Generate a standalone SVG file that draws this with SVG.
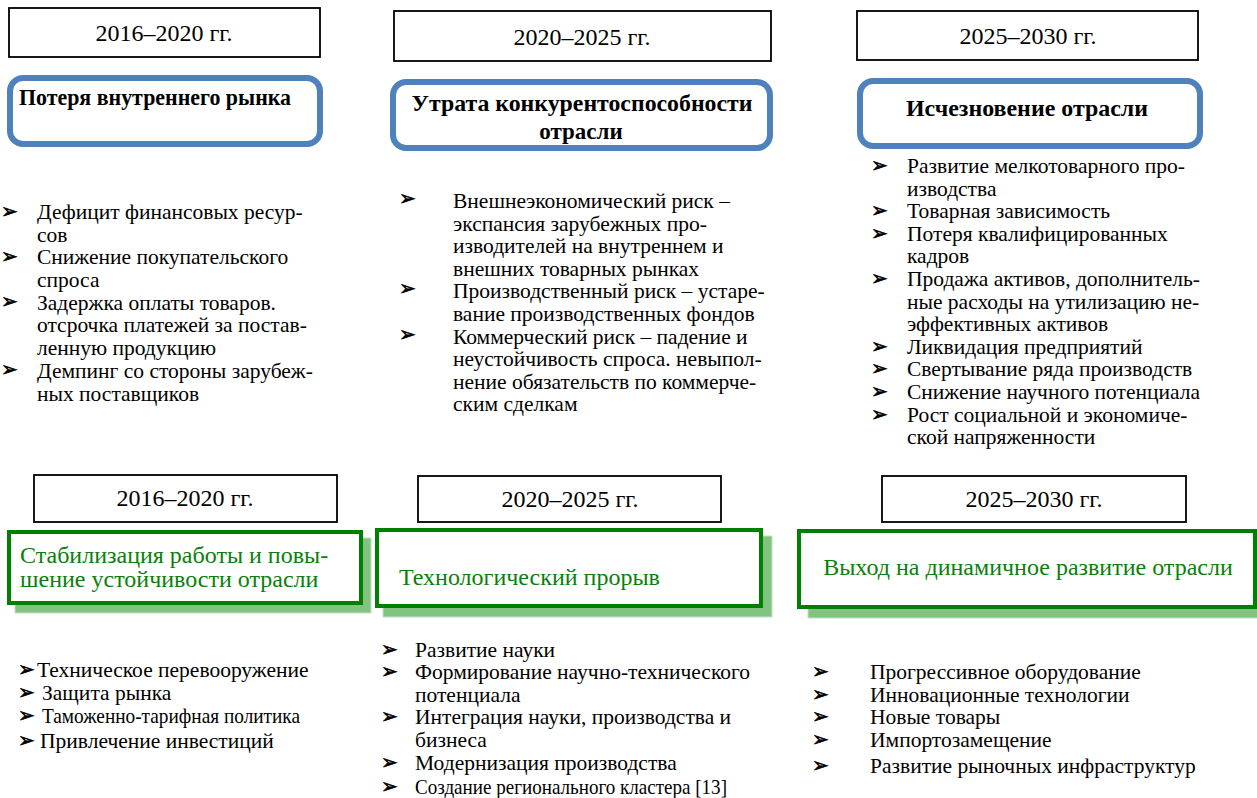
<svg xmlns="http://www.w3.org/2000/svg" width="1257" height="798" viewBox="0 0 1257 798">
<style>
.yr{fill:#fff;stroke:#000;stroke-width:1.8}
.yt{font-family:"Liberation Serif",serif;font-size:24px;fill:#000;text-anchor:middle}
.bb{fill:#fff;stroke:#4F81BD;stroke-width:6}
.bh{font-family:"Liberation Serif",serif;font-size:23px;font-weight:bold;fill:#000}
.gb{fill:#fff;stroke:#008000;stroke-width:4}
.gs{fill:#82C382;stroke:#C2E2C2;stroke-width:1}
.gt{font-family:"Liberation Serif",serif;font-size:24px;fill:#0A800A}
.t{font-family:"Liberation Serif",serif;font-size:21.5px;fill:#000}
.b{font-family:"DejaVu Sans",sans-serif;font-size:20px;fill:#000;stroke:#000;stroke-width:0.6}
</style>
<rect width="1257" height="798" fill="#fff"/>
<g id="connectors"/>

<!-- top row -->
<g id="year-top-1"><rect class="yr" x="9" y="8" width="311" height="49"/><text class="yt" x="164" y="41">2016–2020 гг.</text></g>
<g id="year-top-2"><rect class="yr" x="394" y="11" width="377" height="50"/><text class="yt" x="582" y="45">2020–2025 гг.</text></g>
<g id="year-top-3"><rect class="yr" x="857" y="11" width="341" height="49"/><text class="yt" x="1028" y="44">2025–2030 гг.</text></g>

<g id="risk-1"><rect class="bb" x="10" y="78" width="310" height="66" rx="13"/><text class="bh" x="19" y="105" textLength="272" lengthAdjust="spacingAndGlyphs">Потеря внутреннего рынка</text></g>
<g id="risk-2"><rect class="bb" x="393" y="82" width="377" height="66" rx="13"/><text class="bh" text-anchor="middle" x="582" y="111" textLength="341" lengthAdjust="spacingAndGlyphs">Утрата конкурентоспособности</text><text class="bh" text-anchor="middle" x="581" y="139">отрасли</text></g>
<g id="risk-3"><rect class="bb" x="860" y="81" width="340" height="65" rx="13"/><text class="bh" text-anchor="middle" x="1027" y="116" textLength="242" lengthAdjust="spacingAndGlyphs">Исчезновение отрасли</text></g>

<g id="list-top-1">
<text class="b" x="1" y="218">➢</text><text class="b" x="1" y="263">➢</text><text class="b" x="1" y="308">➢</text><text class="b" x="1" y="376">➢</text>
<text class="t" x="37" y="219">Дефицит финансовых ресур-</text>
<text class="t" x="37" y="242">сов</text>
<text class="t" x="37" y="264">Снижение покупательского</text>
<text class="t" x="37" y="287">спроса</text>
<text class="t" x="37" y="310">Задержка оплаты товаров.</text>
<text class="t" x="37" y="332">отсрочка платежей за постав-</text>
<text class="t" x="37" y="355">ленную продукцию</text>
<text class="t" x="37" y="378">Демпинг со стороны зарубеж-</text>
<text class="t" x="37" y="401">ных поставщиков</text>
</g>

<g id="list-top-2">
<text class="b" x="399" y="205">➢</text><text class="b" x="399" y="295">➢</text><text class="b" x="399" y="341">➢</text>
<text class="t" x="453" y="208">Внешнеэкономический риск –</text>
<text class="t" x="453" y="231">экспансия зарубежных про-</text>
<text class="t" x="453" y="253">изводителей на внутреннем и</text>
<text class="t" x="453" y="276">внешних товарных рынках</text>
<text class="t" x="453" y="298">Производственный риск – устаре-</text>
<text class="t" x="453" y="321">вание производственных фондов</text>
<text class="t" x="453" y="344">Коммерческий риск – падение и</text>
<text class="t" x="453" y="366">неустойчивость спроса. невыпол-</text>
<text class="t" x="453" y="389">нение обязательств по коммерче-</text>
<text class="t" x="453" y="411">ским сделкам</text>
</g>

<g id="list-top-3">
<text class="b" x="871" y="172">➢</text><text class="b" x="871" y="217">➢</text><text class="b" x="871" y="240">➢</text><text class="b" x="871" y="285">➢</text><text class="b" x="871" y="353">➢</text><text class="b" x="871" y="375">➢</text><text class="b" x="871" y="398">➢</text><text class="b" x="871" y="421">➢</text>
<text class="t" x="907" y="173">Развитие мелкотоварного про-</text>
<text class="t" x="907" y="196">изводства</text>
<text class="t" x="907" y="218">Товарная зависимость</text>
<text class="t" x="907" y="241">Потеря квалифицированных</text>
<text class="t" x="907" y="263">кадров</text>
<text class="t" x="907" y="286">Продажа активов, дополнитель-</text>
<text class="t" x="907" y="309">ные расходы на утилизацию не-</text>
<text class="t" x="907" y="331">эффективных активов</text>
<text class="t" x="907" y="354">Ликвидация предприятий</text>
<text class="t" x="907" y="376">Свертывание ряда производств</text>
<text class="t" x="907" y="399">Снижение научного потенциала</text>
<text class="t" x="907" y="422">Рост социальной и экономиче-</text>
<text class="t" x="907" y="444">ской напряженности</text>
</g>

<!-- bottom row -->
<g id="year-bot-1"><rect class="yr" x="34" y="475" width="303" height="47"/><text class="yt" x="185" y="506">2016–2020 гг.</text></g>
<g id="year-bot-2"><rect class="yr" x="418" y="476" width="303" height="46"/><text class="yt" x="570" y="507">2020–2025 гг.</text></g>
<g id="year-bot-3"><rect class="yr" x="882" y="476" width="304" height="46"/><text class="yt" x="1034" y="507">2025–2030 гг.</text></g>

<g id="goal-1"><rect class="gs" x="15" y="538" width="356" height="75"/><rect class="gb" x="9" y="532" width="352" height="71"/><text class="gt" x="20" y="563">Стабилизация работы и повы-</text><text class="gt" x="20" y="587">шение устойчивости отрасли</text></g>
<g id="goal-2"><rect class="gs" x="383" y="536" width="389" height="81"/><rect class="gb" x="377" y="530" width="384" height="76"/><text class="gt" x="399" y="585">Технологический прорыв</text></g>
<g id="goal-3"><rect class="gs" x="808" y="538" width="460" height="80"/><rect class="gb" x="799" y="531" width="456" height="76"/><text class="gt" text-anchor="middle" x="1028" y="575">Выход на динамичное развитие отрасли</text></g>

<g id="list-bot-1">
<text class="b" x="18" y="676">➢</text><text class="b" x="18" y="699">➢</text><text class="b" x="18" y="722">➢</text><text class="b" x="18" y="747">➢</text>
<text class="t" x="37" y="677">Техническое перевооружение</text>
<text class="t" x="42" y="700">Защита рынка</text>
<text class="t" x="42" y="723" textLength="258" lengthAdjust="spacingAndGlyphs">Таможенно-тарифная политика</text>
<text class="t" x="40" y="748">Привлечение инвестиций</text>
</g>

<g id="list-bot-2">
<text class="b" x="381" y="656">➢</text><text class="b" x="381" y="678">➢</text><text class="b" x="381" y="723">➢</text><text class="b" x="381" y="769">➢</text><text class="b" x="381" y="793">➢</text>
<text class="t" x="415" y="657">Развитие науки</text>
<text class="t" x="415" y="679">Формирование научно-технического</text>
<text class="t" x="415" y="702">потенциала</text>
<text class="t" x="415" y="724">Интеграция науки, производства и</text>
<text class="t" x="415" y="747">бизнеса</text>
<text class="t" x="415" y="770">Модернизация производства</text>
<text class="t" x="415" y="794" textLength="312" lengthAdjust="spacingAndGlyphs">Создание регионального кластера [13]</text>
</g>

<g id="list-bot-3">
<text class="b" x="812" y="678">➢</text><text class="b" x="812" y="701">➢</text><text class="b" x="812" y="723">➢</text><text class="b" x="812" y="746">➢</text><text class="b" x="812" y="772">➢</text>
<text class="t" x="870" y="679">Прогрессивное оборудование</text>
<text class="t" x="870" y="702">Инновационные технологии</text>
<text class="t" x="870" y="724">Новые товары</text>
<text class="t" x="870" y="747">Импортозамещение</text>
<text class="t" x="870" y="773">Развитие рыночных инфраструктур</text>
</g>
</svg>
